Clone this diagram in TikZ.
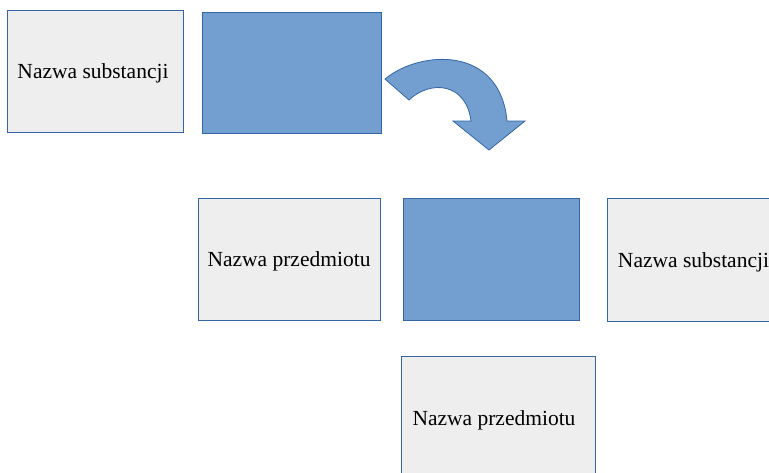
\documentclass[tikz,border=0pt]{standalone}
\usepackage{fontspec}
\setmainfont{Liberation Serif}
\definecolor{boxgray}{HTML}{EEEEEE}
\definecolor{boxblue}{HTML}{729FCF}
\definecolor{edgeblue}{HTML}{3465A4}
\newcommand{\lowtxt}[1]{\raisebox{-2.5pt}[\height][\depth]{#1}}
\begin{document}
\begin{tikzpicture}[x=1pt,y=-1pt,
  graybox/.style={draw=edgeblue, line width=0.9pt, fill=boxgray, inner sep=0pt, font=\fontsize{21.5}{24}\selectfont},
  bluebox/.style={draw=edgeblue, line width=0.9pt, fill=boxblue, inner sep=0pt}]
\useasboundingbox (0,0) rectangle (769,472);
\clip (0,0) rectangle (769,472);
\node[graybox, minimum width=176pt, minimum height=122pt] (s1) at (95,71) {\hspace*{-4pt}\lowtxt{Nazwa substancji}};
\node[bluebox, minimum width=179pt, minimum height=121pt] (b1) at (291.5,72.5) {};
\node[graybox, minimum width=182pt, minimum height=122pt] (p1) at (289,259) {\lowtxt{Nazwa przedmiotu}};
\node[bluebox, minimum width=176pt, minimum height=122pt] (b2) at (491,259) {};
\node[graybox, minimum width=176pt, minimum height=123pt] (s2) at (695,259.5) {\hspace*{-3pt}\lowtxt{Nazwa substancji}};
\node[graybox, minimum width=194pt, minimum height=124pt] (p2) at (498,418) {\hspace*{-8pt}\lowtxt{Nazwa przedmiotu}};
\draw[draw=edgeblue, line width=0.8pt, fill=boxblue]
  (385,79) .. controls (420,50) and (500,45) .. (507,121)
  -- (525,121) -- (489,150) -- (453,121) -- (471,121)
  .. controls (466,82) and (430,80) .. (409,100) -- cycle;
\end{tikzpicture}
\end{document}
